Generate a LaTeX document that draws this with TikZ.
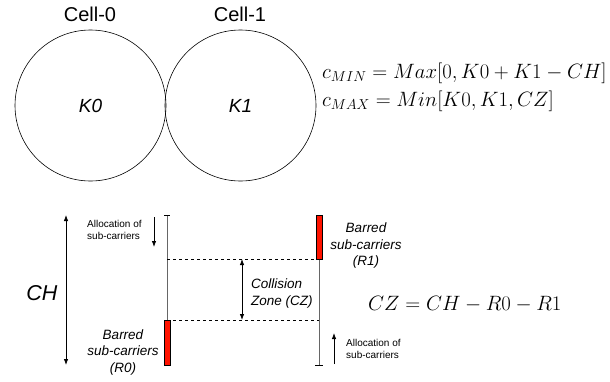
\documentclass[tikz,border=0pt]{standalone}
\usepackage{fontspec}
\setmainfont{Liberation Sans}
\usetikzlibrary{arrows.meta}
\begin{document}
\begin{tikzpicture}[x=1pt,y=-1pt,
  cell/.style={circle,draw,line width=0.6pt,minimum size=151pt,inner sep=0pt,font=\fontsize{19}{22}\selectfont\itshape},
  celllabel/.style={font=\fontsize{20}{23}\selectfont},
  eqn/.style={anchor=base west,inner sep=0pt},
  chan/.style={draw=black!60,line width=0.9pt},
  bar/.style={draw=black,fill=red!85!orange,line width=0.5pt},
  zone/.style={draw,dashed,line width=0.6pt},
  arr/.style={draw,line width=0.8pt,-{Latex[length=6pt,width=4.5pt]}},
  darr/.style={draw,line width=0.8pt,{Latex[length=6pt,width=4.5pt]}-{Latex[length=6pt,width=4.5pt]}},
  smalltxt/.style={font=\fontsize{10}{12}\selectfont,align=left,inner sep=0pt},
  itxt/.style={font=\fontsize{13.5}{16.5}\selectfont\itshape,inner sep=0pt}
]
\useasboundingbox (0,0) rectangle (610,381);
% circles
\node[cell] (c0) at (90.5,105.5) {K0};
\node[cell] (c1) at (240.5,105.5) {K1};
\node[celllabel] (l0) at (90,14) {Cell-0};
\node[celllabel] (l1) at (240,14) {Cell-1};
% equations
\node[eqn,font=\fontsize{19.5}{22}\selectfont] (e1) at (322,78) {$c_{MIN} = Max[0, K0 + K1 - CH]$};
\node[eqn,font=\fontsize{19.5}{22}\selectfont] (e2) at (322,106) {$c_{MAX} = Min[K0, K1, CZ]$};
\node[eqn,font=\fontsize{22}{26}\selectfont] (e3) at (368,310) {$CZ = CH - R0 - R1$};
% channel lines
\coordinate (atop) at (167,215);
\coordinate (abot) at (167,365);
\coordinate (btop) at (319,215);
\coordinate (bbot) at (319,365);
\draw[chan] (atop) -- (abot);
\draw[chan] (btop) -- (bbot);
\draw[line width=0.8pt] ([xshift=-3pt]atop) -- ([xshift=3pt]atop);
\draw[line width=0.8pt] ([xshift=-4pt]bbot) -- ([xshift=4pt]bbot);
% barred bars
\node[bar,minimum width=6pt,minimum height=45pt,inner sep=0pt,anchor=north] (r0) at (167,320) {};
\node[bar,minimum width=6pt,minimum height=44pt,inner sep=0pt,anchor=north] (r1) at (319,215) {};
% collision zone
\coordinate (za) at (167,259);
\coordinate (zb) at (319,259);
\coordinate (zc) at (167,320);
\coordinate (zd) at (319,320);
\draw[zone] (za) -- (zb);
\draw[zone] (zc) -- (zd);
\coordinate (cza) at (242,259);
\coordinate (czb) at (242,320);
\draw[darr] (cza) -- (czb);
\node[itxt,align=left,anchor=west] (czl) at (251,293.5) {Collision\\Zone (CZ)};
% CH
\coordinate (cha) at (66,215);
\coordinate (chb) at (66,365);
\draw[darr] (cha) -- (chb);
\node[font=\fontsize{21.5}{24}\selectfont\itshape] (ch) at (42,293) {CH};
% allocation labels
\node[smalltxt,anchor=west] (al0) at (87,230) {Allocation of\\sub-carriers};
\coordinate (a0s) at (154,217);
\coordinate (a0e) at (154,247);
\draw[arr] (a0s) -- (a0e);
\node[smalltxt,anchor=west] (al1) at (346,349) {Allocation of\\sub-carriers};
\coordinate (a1s) at (334,364);
\coordinate (a1e) at (334,333);
\draw[arr] (a1s) -- (a1e);
% barred labels
\node[itxt,align=center] (b0) at (123,352) {Barred\\sub-carriers\\(R0)};
\node[itxt,align=center] (b1) at (366,245.5) {Barred\\sub-carriers\\(R1)};
\end{tikzpicture}
\end{document}
